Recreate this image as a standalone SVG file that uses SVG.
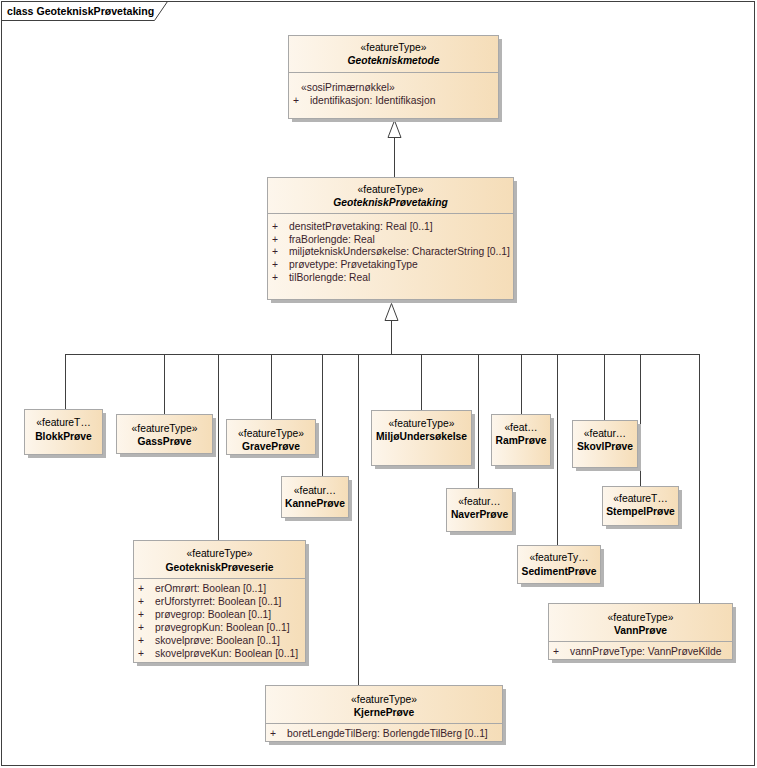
<svg xmlns="http://www.w3.org/2000/svg" width="757" height="768" viewBox="0 0 757 768">
<defs>
<linearGradient id="g" x1="0" y1="0" x2="1" y2="0">
<stop offset="0" stop-color="#FDF6EC"/>
<stop offset="1" stop-color="#F5DDB8"/>
</linearGradient>
<style>
text{font-family:"Liberation Sans",Arial,sans-serif;font-size:10.3px;fill:#000}
.b{fill:url(#g);stroke:#A8A8A8;stroke-width:1}
.s{fill:#B4B4B4}
.sep{stroke:#A8A8A8;stroke-width:1}
.c{text-anchor:middle}
.n{font-weight:bold;text-anchor:middle}
.i{font-weight:bold;font-style:italic;text-anchor:middle}
.a{fill:#3A1E2C}
.l{stroke:#404040;stroke-width:1;fill:none}
.t{fill:#fff;stroke:#404040;stroke-width:1}
</style>
</defs>
<rect x="0" y="0" width="757" height="768" fill="#fff"/>
<g id="frame">
<rect x="1.5" y="1.5" width="753" height="764" fill="none" stroke="#404040"/>
<path d="M1.5 20.5 H154.5 L167.5 1.5" fill="none" stroke="#404040"/>
<text x="7" y="15" style="font-weight:bold;font-size:10.6px">class GeotekniskPrøvetaking</text>
</g>
<g id="connectors">
<line class="l" x1="394.5" y1="137" x2="394.5" y2="178"/>
<polygon class="t" points="394.5,120.5 388,137.5 401,137.5"/>
<line class="l" x1="391.5" y1="320" x2="391.5" y2="354.5"/>
<polygon class="t" points="391.5,303.5 385,320.5 398,320.5"/>
<line class="l" x1="65.5" y1="354.5" x2="699.5" y2="354.5"/>
<line class="l" x1="65.5" y1="354" x2="65.5" y2="410"/>
<line class="l" x1="164.5" y1="354" x2="164.5" y2="415"/>
<line class="l" x1="218.5" y1="354" x2="218.5" y2="541"/>
<line class="l" x1="271.5" y1="354" x2="271.5" y2="420"/>
<line class="l" x1="322.5" y1="354" x2="322.5" y2="477"/>
<line class="l" x1="358.5" y1="354" x2="358.5" y2="686"/>
<line class="l" x1="421.5" y1="354" x2="421.5" y2="411"/>
<line class="l" x1="478.5" y1="354" x2="478.5" y2="488"/>
<line class="l" x1="521.5" y1="354" x2="521.5" y2="415"/>
<line class="l" x1="557.5" y1="354" x2="557.5" y2="546"/>
<line class="l" x1="604.5" y1="354" x2="604.5" y2="420"/>
<line class="l" x1="640.5" y1="354" x2="640.5" y2="486"/>
<line class="l" x1="699.5" y1="354" x2="699.5" y2="604"/>
</g>
<g id="Geotekniskmetode">
<rect class="s" x="292" y="39" width="210" height="83"/>
<rect class="b" x="288.5" y="35.5" width="210" height="83"/>
<line class="sep" x1="288.5" y1="72.5" x2="498.5" y2="72.5"/>
<text class="c" x="393.5" y="51">«featureType»</text>
<text class="i" x="393.5" y="64">Geotekniskmetode</text>
<text class="a" x="301" y="91">«sosiPrimærnøkkel»</text>
<text class="a" x="293" y="104">+</text>
<text class="a" x="310" y="104">identifikasjon: Identifikasjon</text>
</g>
<g id="GeotekniskPrøvetaking">
<rect class="s" x="271" y="181" width="246" height="122"/>
<rect class="b" x="267.5" y="177.5" width="246" height="122"/>
<line class="sep" x1="267.5" y1="213.5" x2="513.5" y2="213.5"/>
<text class="c" x="390.5" y="193">«featureType»</text>
<text class="i" x="390.5" y="206">GeotekniskPrøvetaking</text>
<text class="a" x="272" y="230">+</text><text class="a" x="289" y="230">densitetPrøvetaking: Real [0..1]</text>
<text class="a" x="272" y="243">+</text><text class="a" x="289" y="243">fraBorlengde: Real</text>
<text class="a" x="272" y="255">+</text><text class="a" x="289" y="255">miljøtekniskUndersøkelse: CharacterString [0..1]</text>
<text class="a" x="272" y="268">+</text><text class="a" x="289" y="268">prøvetype: PrøvetakingType</text>
<text class="a" x="272" y="281">+</text><text class="a" x="289" y="281">tilBorlengde: Real</text>
</g>
<g id="BlokkPrøve">
<rect class="s" x="28" y="413" width="78" height="45"/>
<rect class="b" x="24.5" y="409.5" width="78" height="45"/>
<text class="c" x="63.5" y="426">«featureT…</text>
<text class="n" x="63.5" y="440">BlokkPrøve</text>
</g>
<g id="GassPrøve">
<rect class="s" x="120" y="418" width="96" height="39"/>
<rect class="b" x="116.5" y="414.5" width="96" height="39"/>
<text class="c" x="164.5" y="432">«featureType»</text>
<text class="n" x="164.5" y="445">GassPrøve</text>
</g>
<g id="GravePrøve">
<rect class="s" x="230" y="423" width="89" height="35"/>
<rect class="b" x="226.5" y="419.5" width="89" height="35"/>
<text class="c" x="271" y="437">«featureType»</text>
<text class="n" x="271" y="450">GravePrøve</text>
</g>
<g id="KannePrøve">
<rect class="s" x="285" y="480" width="67" height="41"/>
<rect class="b" x="281.5" y="476.5" width="67" height="41"/>
<text class="c" x="315" y="494">«featur…</text>
<text class="n" x="315" y="507">KannePrøve</text>
</g>
<g id="MiljøUndersøkelse">
<rect class="s" x="375" y="414" width="100" height="55"/>
<rect class="b" x="371.5" y="410.5" width="100" height="55"/>
<text class="c" x="421.5" y="427">«featureType»</text>
<text class="n" x="421.5" y="440">MiljøUndersøkelse</text>
</g>
<g id="RamPrøve">
<rect class="s" x="495" y="418" width="59" height="51"/>
<rect class="b" x="491.5" y="414.5" width="59" height="51"/>
<text class="c" x="521" y="431">«feat…</text>
<text class="n" x="521" y="444">RamPrøve</text>
</g>
<g id="SkovlPrøve">
<rect class="s" x="576" y="424" width="65" height="47"/>
<rect class="b" x="572.5" y="420.5" width="65" height="47"/>
<text class="c" x="605" y="437">«featur…</text>
<text class="n" x="605" y="450">SkovlPrøve</text>
</g>
<g id="NaverPrøve">
<rect class="s" x="450" y="492" width="66" height="43"/>
<rect class="b" x="446.5" y="488.5" width="66" height="43"/>
<text class="c" x="479.5" y="505">«featur…</text>
<text class="n" x="479.5" y="518">NaverPrøve</text>
</g>
<g id="StempelPrøve">
<rect class="s" x="606" y="490" width="76" height="39"/>
<rect class="b" x="602.5" y="486.5" width="76" height="39"/>
<text class="c" x="640.5" y="502">«featureT…</text>
<text class="n" x="640.5" y="515">StempelPrøve</text>
</g>
<g id="SedimentPrøve">
<rect class="s" x="521" y="549" width="83" height="38"/>
<rect class="b" x="517.5" y="545.5" width="83" height="38"/>
<text class="c" x="559" y="561">«featureTy…</text>
<text class="n" x="559" y="575">SedimentPrøve</text>
</g>
<g id="GeotekniskPrøveserie">
<rect class="s" x="137" y="544" width="172" height="122"/>
<rect class="b" x="133.5" y="540.5" width="172" height="122"/>
<line class="sep" x1="133.5" y1="578.5" x2="305.5" y2="578.5"/>
<text class="c" x="219.5" y="557">«featureType»</text>
<text class="n" x="219.5" y="571">GeotekniskPrøveserie</text>
<text class="a" x="138" y="592">+</text><text class="a" x="155" y="592">erOmrørt: Boolean [0..1]</text>
<text class="a" x="138" y="605">+</text><text class="a" x="155" y="605">erUforstyrret: Boolean [0..1]</text>
<text class="a" x="138" y="618">+</text><text class="a" x="155" y="618">prøvegrop: Boolean [0..1]</text>
<text class="a" x="138" y="631">+</text><text class="a" x="155" y="631">prøvegropKun: Boolean [0..1]</text>
<text class="a" x="138" y="644">+</text><text class="a" x="155" y="644">skovelprøve: Boolean [0..1]</text>
<text class="a" x="138" y="657">+</text><text class="a" x="155" y="657">skovelprøveKun: Boolean [0..1]</text>
</g>
<g id="VannPrøve">
<rect class="s" x="552" y="607" width="184" height="56"/>
<rect class="b" x="548.5" y="603.5" width="184" height="56"/>
<line class="sep" x1="548.5" y1="641.5" x2="732.5" y2="641.5"/>
<text class="c" x="640.5" y="621">«featureType»</text>
<text class="n" x="640.5" y="634">VannPrøve</text>
<text class="a" x="553" y="655">+</text><text class="a" x="570" y="655">vannPrøveType: VannPrøveKilde</text>
</g>
<g id="KjernePrøve">
<rect class="s" x="269" y="689" width="237" height="56"/>
<rect class="b" x="265.5" y="685.5" width="237" height="56"/>
<line class="sep" x1="265.5" y1="723.5" x2="502.5" y2="723.5"/>
<text class="c" x="384" y="703">«featureType»</text>
<text class="n" x="384" y="716">KjernePrøve</text>
<text class="a" x="270" y="737">+</text><text class="a" x="287" y="737">boretLengdeTilBerg: BorlengdeTilBerg [0..1]</text>
</g>
</svg>
